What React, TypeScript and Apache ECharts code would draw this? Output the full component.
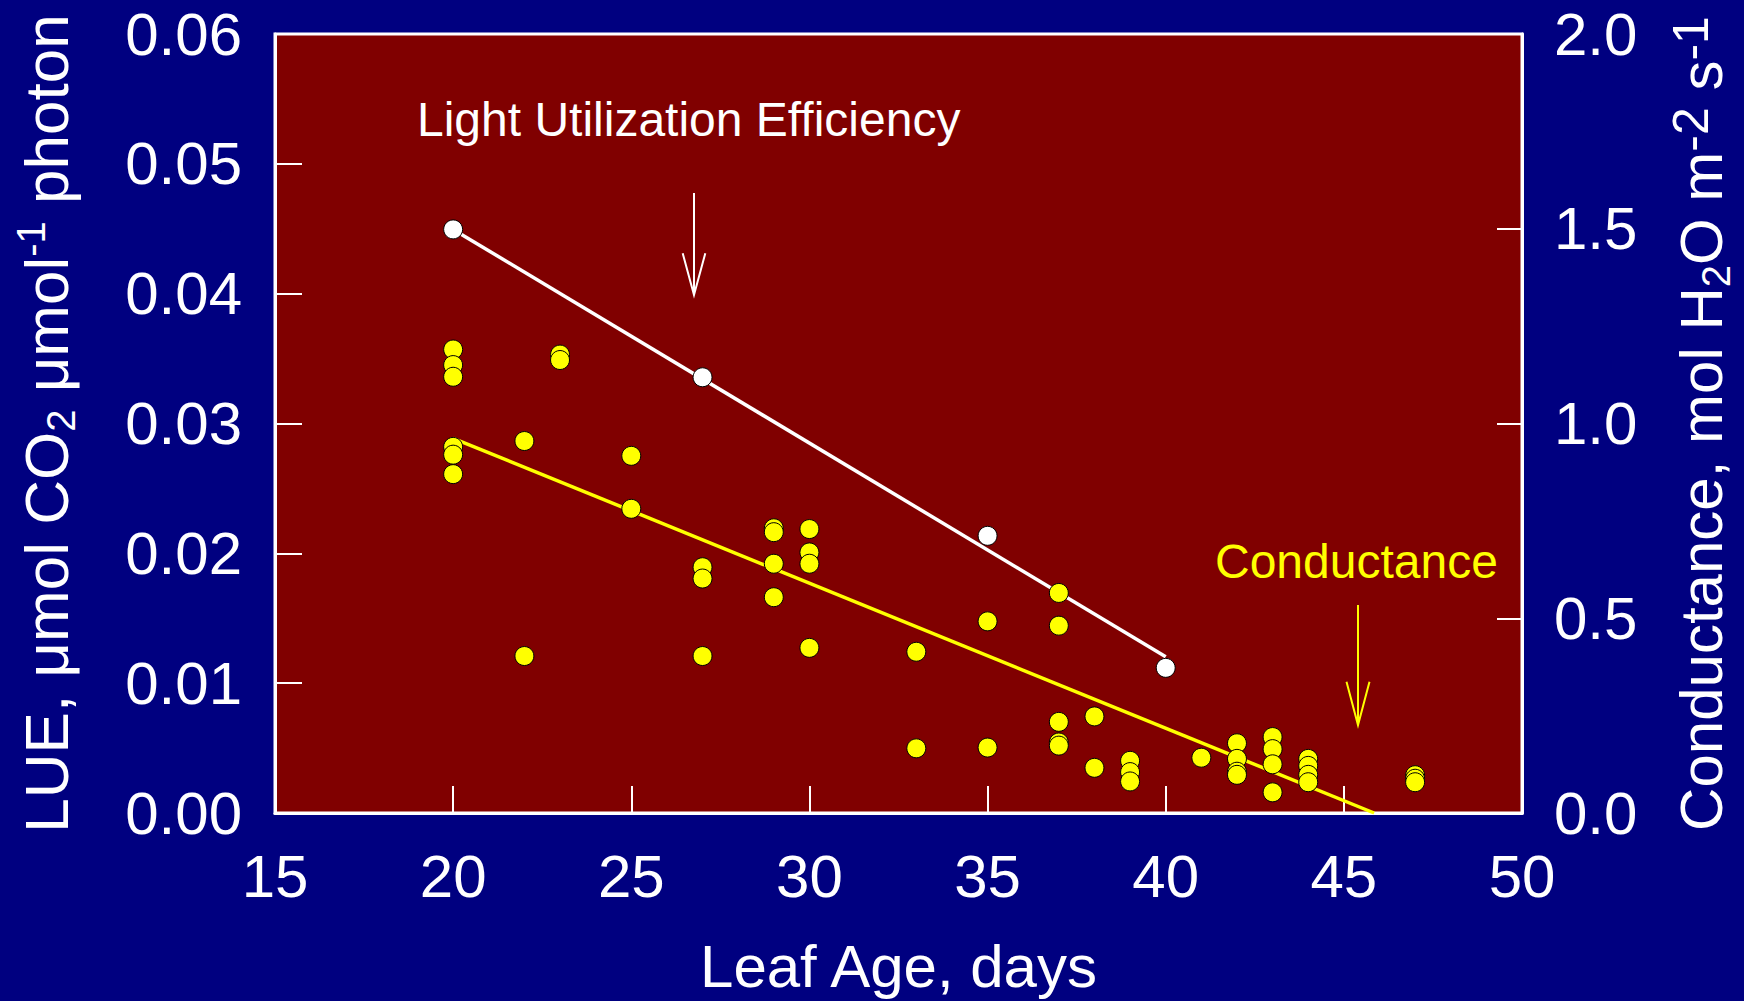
import React, { useEffect, useRef } from "react";
import * as echarts from "echarts";

// ---- Data ----
const xTicks = [15, 20, 25, 30, 35, 40, 45, 50];

// Light utilization efficiency (left axis)
const lueDays = [20, 27, 35, 40];
const lueValues = [0.04495, 0.03356, 0.02135, 0.01118];
const lueFitDays = [20, 40];
const lueFitValues = [0.04495, 0.01203];

// Conductance (right axis)
const condDays = [
  20, 20, 20, 20, 20, 20,
  22, 22,
  23, 23,
  25, 25,
  27, 27, 27,
  29, 29, 29, 29,
  30, 30, 30, 30,
  33, 33,
  35, 35,
  37, 37, 37, 37, 37,
  38, 38,
  39, 39, 39,
  41,
  42, 42, 42, 42,
  43, 43, 43, 43,
  44, 44, 44, 44,
  47, 47, 47,
];
const condValues = [
  1.19, 1.15, 1.12, 0.94, 0.92, 0.87,
  0.955, 0.403,
  1.177, 1.163,
  0.917, 0.781,
  0.631, 0.602, 0.403,
  0.731, 0.721, 0.64, 0.554,
  0.729, 0.669, 0.64, 0.424,
  0.414, 0.166,
  0.492, 0.168,
  0.565, 0.481, 0.234, 0.181, 0.173,
  0.248, 0.116,
  0.134, 0.105, 0.081,
  0.142,
  0.179, 0.139, 0.106, 0.098,
  0.195, 0.164, 0.125, 0.053,
  0.139, 0.121, 0.098, 0.079,
  0.097, 0.088, 0.079,
];
const condFitDays = [20, 45.85];
const condFitValues = [0.962, 0];

const FONT = '"Liberation Sans", Arial, sans-serif';
const NAVY = "#000080";
const MAROON = "#800000";
const YELLOW = "#ffff00";

const zip = (xs: number[], ys: number[]) => xs.map((x, i) => [x, ys[i]]);

export default function App() {
  const ref = useRef<HTMLDivElement>(null);

  useEffect(() => {
    if (!ref.current) return;
    const chart = echarts.init(ref.current, null, { renderer: "svg" });

    const leftRich = {
      a: { fontSize: 62, fontFamily: FONT, color: "#fff", lineHeight: 70 },
      sub: { fontSize: 40, fontFamily: FONT, color: "#fff", verticalAlign: "bottom", lineHeight: 70 },
      sup: { fontSize: 40, fontFamily: FONT, color: "#fff", verticalAlign: "top", lineHeight: 70 },
    };
    const rightRich = {
      a: { fontSize: 60, fontFamily: FONT, color: "#fff", lineHeight: 70 },
      sub: { fontSize: 40, fontFamily: FONT, color: "#fff", verticalAlign: "bottom", lineHeight: 70 },
      sup: { fontSize: 50, fontFamily: FONT, color: "#fff", verticalAlign: "top", lineHeight: 70 },
    };

    const axisLabelBase = {
      color: "#fff",
      fontSize: 60,
      fontFamily: FONT,
    };

    chart.setOption({
      animation: false,
      backgroundColor: NAVY,
      grid: {
        left: 275,
        top: 34,
        right: 215,
        bottom: 183,
        show: true,
        backgroundColor: MAROON,
        borderColor: "#fff",
        borderWidth: 3,
      },
      xAxis: {
        type: "value",
        min: xTicks[0],
        max: xTicks[xTicks.length - 1],
        interval: 5,
        name: "Leaf Age, days",
        nameLocation: "middle",
        nameGap: 123,
        nameTextStyle: { color: "#fff", fontSize: 60, fontFamily: FONT },
        axisLine: { show: true, lineStyle: { color: "#fff", width: 3 } },
        axisTick: { show: true, inside: true, length: 27, lineStyle: { color: "#fff", width: 2 } },
        axisLabel: { ...axisLabelBase, margin: 33, formatter: (v: number) => String(v) },
        splitLine: { show: false },
      },
      yAxis: [
        {
          type: "value",
          position: "left",
          min: 0,
          max: 0.06,
          interval: 0.01,
          name: "{a|LUE, μmol CO}{sub|2}{a| μmol}{sup|-1}{a| photon}",
          nameLocation: "middle",
          nameRotate: 90,
          nameGap: 194,
          nameTextStyle: { color: "#fff", fontSize: 62, fontFamily: FONT, rich: leftRich },
          axisLine: { show: true, lineStyle: { color: "#fff", width: 3 } },
          axisTick: { show: true, inside: true, length: 27, lineStyle: { color: "#fff", width: 2 } },
          axisLabel: { ...axisLabelBase, margin: 33, formatter: (v: number) => v.toFixed(2) },
          splitLine: { show: false },
        },
        {
          type: "value",
          position: "right",
          min: 0,
          max: 2,
          interval: 0.5,
          name: "{a|Conductance, mol H}{sub|2}{a|O m}{sup|-2}{a| s}{sup|-1}",
          nameLocation: "middle",
          nameRotate: 90,
          nameGap: 144,
          nameTextStyle: { color: "#fff", fontSize: 60, fontFamily: FONT, rich: rightRich },
          axisLine: { show: true, lineStyle: { color: "#fff", width: 3 } },
          axisTick: { show: true, inside: true, length: 25, lineStyle: { color: "#fff", width: 2 } },
          axisLabel: { ...axisLabelBase, margin: 32, formatter: (v: number) => v.toFixed(1) },
          splitLine: { show: false },
        },
      ],
      series: [
        {
          name: "LUE fit",
          type: "line",
          yAxisIndex: 0,
          data: zip(lueFitDays, lueFitValues),
          showSymbol: false,
          symbol: "none",
          lineStyle: { color: "#fff", width: 3.5 },
          z: 2,
        },
        {
          name: "Conductance fit",
          type: "line",
          yAxisIndex: 1,
          data: zip(condFitDays, condFitValues),
          showSymbol: false,
          symbol: "none",
          lineStyle: { color: YELLOW, width: 3.5 },
          z: 2,
        },
        {
          name: "LUE",
          type: "scatter",
          yAxisIndex: 0,
          data: zip(lueDays, lueValues),
          symbol: "circle",
          symbolSize: 19,
          itemStyle: { color: "#fff", borderColor: "#000", borderWidth: 1, opacity: 1 },
          z: 3,
        },
        {
          name: "Conductance",
          type: "scatter",
          yAxisIndex: 1,
          data: zip(condDays, condValues),
          symbol: "circle",
          symbolSize: 19,
          itemStyle: { color: YELLOW, borderColor: "#000", borderWidth: 1, opacity: 1 },
          z: 4,
        },
      ],
      graphic: [
        {
          type: "text",
          x: 417,
          y: 119,
          z: 10,
          style: {
            text: "Light Utilization Efficiency",
            fill: "#fff",
            fontSize: 48,
            fontFamily: FONT,
            align: "left",
            verticalAlign: "middle",
          },
        },
        {
          type: "text",
          x: 1215,
          y: 561,
          z: 10,
          style: {
            text: "Conductance",
            fill: YELLOW,
            fontSize: 48,
            fontFamily: FONT,
            align: "left",
            verticalAlign: "middle",
          },
        },
        {
          type: "line",
          z: 10,
          shape: { x1: 694, y1: 193, x2: 694, y2: 295 },
          style: { stroke: "#fff", lineWidth: 2 },
        },
        {
          type: "polyline",
          z: 10,
          shape: { points: [[682.7, 253.3], [694, 295], [705.3, 253.3]] },
          style: { stroke: "#fff", lineWidth: 2, fill: null },
        },
        {
          type: "line",
          z: 10,
          shape: { x1: 1358, y1: 605, x2: 1358, y2: 725 },
          style: { stroke: YELLOW, lineWidth: 2 },
        },
        {
          type: "polyline",
          z: 10,
          shape: { points: [[1346.5, 681.7], [1358, 725], [1369.5, 681.7]] },
          style: { stroke: YELLOW, lineWidth: 2, fill: null },
        },
      ],
    });

    return () => chart.dispose();
  }, []);

  return (
    <div
      ref={ref}
      style={{ position: "fixed", left: 0, top: 0, width: 1744, height: 1001 }}
    />
  );
}
